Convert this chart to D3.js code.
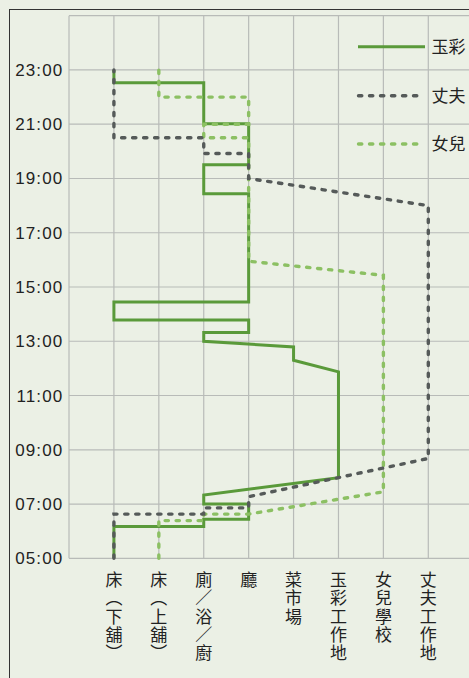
<!DOCTYPE html>
<html>
<head>
<meta charset="utf-8">
<script src="https://cdn.jsdelivr.net/npm/d3@7"></script>
<style>
  body { margin:0; background:#ebf0e5; }
  svg { display:block; }
</style>
</head>
<body>
<svg id="chart"></svg>
<script>
// places along the bottom (index 1..8)
var places = ["床（下舖）", "床（上舖）", "廁／浴／廚", "廳", "菜市場", "玉彩工作地", "女兒學校", "丈夫工作地"]
var hourTicks = [5, 7, 9, 11, 13, 15, 17, 19, 21, 23, 25]

// [place index, hour] for each person
var yucai = [[1,5],[1,6.17],[3,6.17],[3,6.44],[4,6.44],[4,7.0],[3,7.0],[3,7.33],[6,7.97],[6,11.87],[5,12.3],[5,12.79],[3,13.0],[3,13.32],[4,13.32],[4,13.78],[1,13.78],[1,14.45],[4,14.45],[4,18.44],[3,18.44],[3,19.51],[4,19.51],[4,21.02],[3,21.02],[3,22.53],[1,22.53],[1,23]]
var husband = [[1,5],[1,6.63],[3,6.63],[3,6.86],[4,6.86],[4,7.27],[8,8.68],[8,18.0],[4,19.0],[4,19.92],[3,19.92],[3,20.5],[1,20.5],[1,23]]
var daughter = [[2,5],[2,6.39],[3,6.39],[3,6.63],[4,6.63],[7,7.45],[7,15.43],[4,15.95],[4,20.5],[3,20.5],[3,21.0],[4,21.0],[4,22.0],[2,22.0],[2,23]]

var seriesNames = ["玉彩", "丈夫", "女兒"]

var width = 469, height = 678

var svg = d3.select("#chart")
    .attr("width", width)
    .attr("height", height)

// frame
svg.append("rect")
    .attr("x", 9.5).attr("y", 9.5)
    .attr("width", 500).attr("height", 700)
    .attr("fill", "none")
    .attr("stroke", "#333")
    .attr("stroke-width", 1)

var x = d3.scaleLinear().domain([0, 8]).range([69, 428.3])
var y = d3.scaleLinear().domain([5, 25]).range([558.3, 15.7])

// grid
svg.append("g").selectAll("line")
    .data(hourTicks)
    .enter().append("line")
    .attr("x1", x(0)).attr("x2", width)
    .attr("y1", function(d){ return y(d) })
    .attr("y2", function(d){ return y(d) })
    .attr("stroke", "#b8bbb8").attr("stroke-width", 1.2)

svg.append("g").selectAll("line")
    .data(d3.range(0, 9))
    .enter().append("line")
    .attr("x1", function(d){ return x(d) })
    .attr("x2", function(d){ return x(d) })
    .attr("y1", y(25)).attr("y2", y(5))
    .attr("stroke", "#b8bbb8").attr("stroke-width", 1.2)

// hour labels
var fmt = function(h){ return (h < 10 ? "0" : "") + h + ":00" }
svg.append("g").selectAll("text")
    .data(hourTicks.filter(function(h){ return h < 25 }))
    .enter().append("text")
    .attr("x", 63.3)
    .attr("y", function(d){ return y(d) + 6 })
    .attr("text-anchor", "end")
    .attr("font-family", "Liberation Sans, Arial, sans-serif")
    .attr("font-size", 17)
    .attr("letter-spacing", 1.1)
    .attr("fill", "#222")
    .text(fmt)

// vertical place labels (brackets shown in their vertical forms)
var vert = function(s){
    return s.replace(/（/g, "︵").replace(/）/g, "︶")
}
svg.append("g").selectAll("text")
    .data(places)
    .enter().append("text")
    .attr("x", function(d, i){ return x(i + 1) })
    .attr("y", 571)
    .style("writing-mode", "vertical-rl")
    .attr("font-family", "Noto Sans CJK TC, sans-serif")
    .attr("font-size", 17)
    .attr("letter-spacing", 1.3)
    .attr("fill", "#222")
    .text(function(d){ return vert(d) })

var line = d3.line()
    .x(function(d){ return x(d[0]) })
    .y(function(d){ return y(d[1]) })

var styles = [
    {stroke:"#5a9a3a", width:3, dash:null},
    {stroke:"#555a59", width:3.4, dash:"3.3,7.7"},
    {stroke:"#8cc063", width:3.4, dash:"3.3,7.7"}
]
var order = [0, 2, 1]

order.forEach(function(s){
    var d = s == 0 ? yucai : (s == 1 ? husband : daughter)
    svg.append("path")
        .datum(d)
        .attr("d", line)
        .attr("fill", "none")
        .attr("stroke", styles[s].stroke)
        .attr("stroke-width", styles[s].width)
        .attr("stroke-linecap", styles[s].dash ? "round" : "butt")
        .attr("stroke-linejoin", "miter")
        .attr("stroke-dasharray", styles[s].dash)
})

// legend
var legY = [46.7, 95.7, 144]
seriesNames.forEach(function(n, i){
    svg.append("line")
        .attr("x1", i == 0 ? 358 : 358.5).attr("x2", i == 0 ? 425 : 421)
        .attr("y1", legY[i]).attr("y2", legY[i])
        .attr("stroke", styles[i].stroke)
        .attr("stroke-width", styles[i].width)
        .attr("stroke-linecap", styles[i].dash ? "round" : "butt")
        .attr("stroke-dasharray", styles[i].dash)
    svg.append("text")
        .attr("x", 431.5)
        .attr("y", legY[i] + 6)
        .attr("font-family", "Noto Sans CJK TC, sans-serif")
        .attr("font-size", 17)
        .attr("fill", "#222")
        .text(n)
})
</script>
</body>
</html>
